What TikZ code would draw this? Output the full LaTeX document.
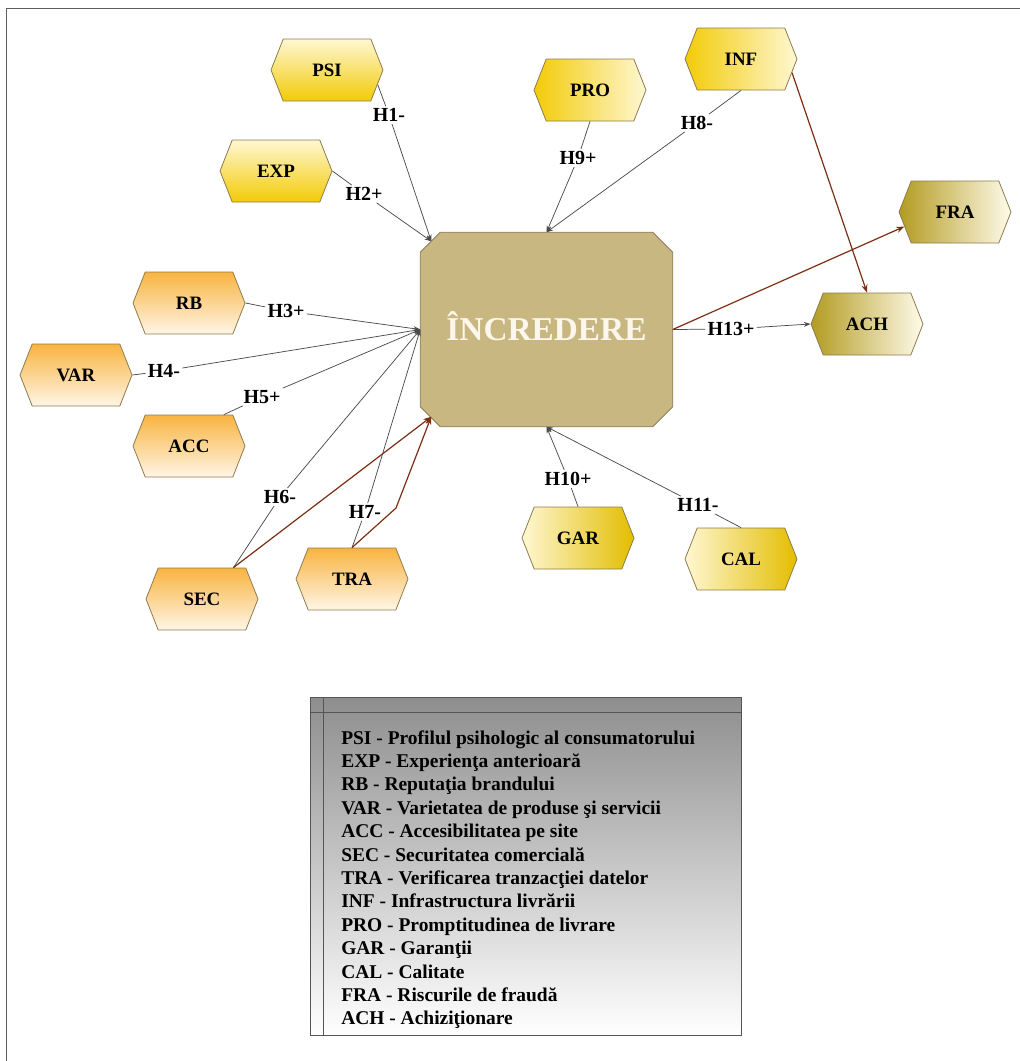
\documentclass[tikz,border=0pt]{standalone}
\usepackage{fontspec}
\setmainfont{Liberation Serif}
\usetikzlibrary{shapes.symbols,arrows.meta,calc,backgrounds}

\definecolor{yelPale}{HTML}{FFF7D2}
\definecolor{yelDeep}{HTML}{F2CB08}
\definecolor{yelDeepB}{HTML}{E3BD00}
\definecolor{oliveDeep}{HTML}{B39B22}
\definecolor{olivePale}{HTML}{FFFBEA}
\definecolor{orgDeep}{HTML}{F8B440}
\definecolor{orgPale}{HTML}{FFF5E6}
\definecolor{hexBorder}{HTML}{8C7C4E}
\definecolor{coreFill}{HTML}{C9B781}
\definecolor{coreBorder}{HTML}{8E8060}
\definecolor{coreText}{HTML}{FBF7EC}
\definecolor{linkGray}{HTML}{4A4A4A}
\definecolor{linkBrown}{HTML}{7B2E12}
\definecolor{legTop}{HTML}{8E8E8E}
\definecolor{legBorder}{HTML}{555555}
\definecolor{frameGray}{HTML}{5E5E5E}

\begin{document}
\begin{tikzpicture}[x=0.75pt,y=-0.75pt,
  hexnode/.style={shape=signal, signal to=east and west, signal from=nowhere,
    signal pointer angle=137, minimum width=84pt, minimum height=46.5pt,
    inner sep=0pt, draw=hexBorder, line width=0.6pt,
    font=\fontsize{14.2}{17}\selectfont\bfseries},
  yelV/.style={hexnode, top color=yelPale, bottom color=yelDeep},
  yelL/.style={hexnode, left color=yelDeep, right color=yelPale},
  yelR/.style={hexnode, left color=yelPale, right color=yelDeepB},
  olive/.style={hexnode, left color=oliveDeep, right color=olivePale},
  orange/.style={hexnode, top color=orgDeep, bottom color=orgPale},
  hyp/.style={font=\fontsize{15}{18}\selectfont\bfseries, inner sep=1.5pt},
  link/.style={draw=linkGray, line width=0.55pt, -{Stealth[length=5pt,width=3.6pt]}},
  brownlink/.style={draw=linkBrown, line width=0.9pt, -{Stealth[length=6pt,width=4.5pt]}},
  legline/.style={anchor=base west, inner sep=0pt, font=\fontsize{14.6}{17.5}\selectfont\bfseries}
]
\useasboundingbox (0,0) rectangle (1020,1061);

% outer frame (top and left edges)
\draw[frameGray, line width=1.1pt] (6.5,1061) -- (6.5,8.5) -- (1020,8.5);

% central construct: text node, with its chamfered box drawn behind it
\node[minimum width=189pt, minimum height=145.5pt, inner sep=0pt, text=coreText,
  text height=16.5pt, text depth=0pt,
  font=\fontsize{25}{30}\selectfont\bfseries] (cen) at (546.5,329.5) {ÎNCREDERE};
\begin{scope}[on background layer]
  \draw[fill=coreFill, draw=coreBorder, line width=0.6pt]
    ($(cen.north west)+(20,0)$) -- ($(cen.north east)+(-20,0)$) -- ($(cen.north east)+(0,20)$)
    -- ($(cen.south east)+(0,-20)$) -- ($(cen.south east)+(-20,0)$) -- ($(cen.south west)+(20,0)$)
    -- ($(cen.south west)+(0,-20)$) -- ($(cen.north west)+(0,20)$) -- cycle;
\end{scope}
\coordinate (cenTL) at ($(cen.north west)+(11,9)$);
\coordinate (cenBL) at ($(cen.south west)+(11,-10)$);

% factors
\node[yelV] (psi) at (327,70) {PSI};
\node[yelV] (exp) at (276,171) {EXP};
\node[yelL] (pro) at (590,90) {PRO};
\node[yelL] (inf) at (741,59) {INF};
\node[olive] (fra) at (955,212) {FRA};
\node[olive] (ach) at (867,324) {ACH};
\node[orange] (rb)  at (189,303) {RB};
\node[orange] (var) at (76,375) {VAR};
\node[orange] (acc) at (189,446) {ACC};
\node[orange] (sec) at (202,599) {SEC};
\node[orange] (tra) at (352,579) {TRA};
\node[yelR] (gar) at (578,538) {GAR};
\node[yelR] (cal) at (741,559) {CAL};

% hypothesis labels
\node[hyp] (h1)  at (389,115) {H1-};
\node[hyp] (h2)  at (364,194) {H2+};
\node[hyp] (h3)  at (286,311) {H3+};
\node[hyp] (h4)  at (164,371) {H4-};
\node[hyp] (h5)  at (262,397) {H5+};
\node[hyp] (h6)  at (280,497) {H6-};
\node[hyp] (h7)  at (365,512) {H7-};
\node[hyp] (h8)  at (697,123) {H8-};
\node[hyp] (h9)  at (578,158) {H9+};
\node[hyp] (h10) at (568,479) {H10+};
\node[hyp] (h11) at (698,505) {H11-};
\node[hyp] (h13) at (731,329) {H13+};

\coordinate (trabend) at (396,508);

% hypothesised links
\draw[link] (psi.-16) -- (h1) -- (cenTL);
\draw[link] (exp.east) -- (h2) -- (cenTL);
\draw[link] (pro.south) -- (h9) -- (cen.north);
\draw[link] (inf.south) -- (h8) -- (cen.north);
\draw[link] (rb.east) -- (h3) -- (cen.west);
\draw[link] (var.east) -- (h4) -- (cen.west);
\draw[link] (acc.42) -- (h5) -- (cen.west);
\draw[link] (sec.45) -- (h6) -- (cen.west);
\draw[link] (tra.north) -- (h7) -- (cen.west);
\draw[link] (gar.north) -- (h10) -- (cen.south);
\draw[link] (cal.north) -- (h11) -- (cen.south);
\draw[link] (cen.east) -- (h13) -- (ach.west);

% additional links
\draw[brownlink] (sec.45) -- (cenBL);
\draw[brownlink] (tra.north) -- (trabend) -- (cenBL);
\draw[brownlink] (inf.-15) -- (ach.north);
\draw[brownlink] (cen.east) -- (fra.196);

% legend
\node[draw=legBorder, line width=0.6pt, top color=legTop, bottom color=white,
  minimum width=323.25pt, minimum height=253.5pt, inner sep=0pt, anchor=north west] (legend) at (310,697) {};
\draw[legBorder, line width=0.6pt] ($(legend.north west)+(0,15)$) -- ($(legend.north east)+(0,15)$);
\draw[legBorder, line width=0.6pt] ($(legend.north west)+(13,0)$) -- ($(legend.south west)+(13,0)$);
\foreach \t [count=\i from 0] in {
  PSI - Profilul psihologic al consumatorului,
  EXP - Experienţa anterioară,
  RB - Reputaţia brandului,
  VAR - Varietatea de produse şi servicii,
  ACC - Accesibilitatea pe site,
  SEC - Securitatea comercială,
  TRA - Verificarea tranzacţiei datelor,
  INF - Infrastructura livrării,
  PRO - Promptitudinea de livrare,
  GAR - Garanţii,
  CAL - Calitate,
  FRA - Riscurile de fraudă,
  ACH - Achiziţionare}
  \node[legline] (leg\i) at (341,{744+23.4*\i}) {\t};
\end{tikzpicture}
\end{document}
